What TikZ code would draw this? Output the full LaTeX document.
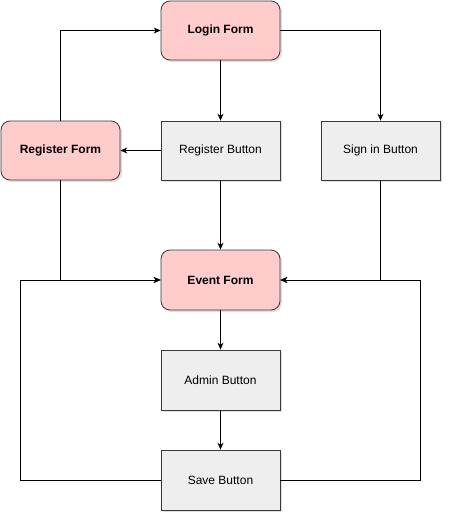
\documentclass[tikz,border=0pt]{standalone}
\usepackage{fontspec}
\setmainfont{Liberation Sans}
\usetikzlibrary{arrows.meta,shadows}
\definecolor{pinkfill}{HTML}{FFCCCC}
\definecolor{grayfill}{HTML}{EEEEEE}
\definecolor{edge}{HTML}{36393D}
\begin{document}
\begin{tikzpicture}[x=1pt,y=-1pt,
  box/.style={draw=edge, line width=0.8pt, minimum width=119pt, minimum height=59pt, inner sep=0pt, font=\fontsize{12}{14}\selectfont,
    drop shadow={shadow xshift=2pt, shadow yshift=-2pt, opacity=0.25, fill=gray}},
  formbox/.style={box, fill=pinkfill, rounded corners=9pt, font=\fontsize{12}{14}\selectfont\bfseries},
  btnbox/.style={box, fill=grayfill},
  conn/.style={draw=black, line width=0.8pt, -{Stealth[length=7pt,width=6pt]}},
  plain/.style={draw=black, line width=0.8pt}]
\useasboundingbox (0,0) rectangle (452,522);
\node[formbox] (login) at (220.5,30.5) {Login Form};
\node[formbox] (regform) at (60.5,150.5) {Register Form};
\node[btnbox] (regbtn) at (220.5,150.5) {Register Button};
\node[btnbox] (signbtn) at (380.5,150.5) {Sign in Button};
\node[formbox, minimum height=60pt] (event) at (220.5,280) {Event Form};
\node[btnbox, minimum height=60pt] (admin) at (220.5,380) {Admin Button};
\node[btnbox, minimum height=60pt] (save) at (220.5,480) {Save Button};
\coordinate (sl) at (20.5,480);
\coordinate (sr) at (420.5,480);
\draw[conn] (login) -- (regbtn);
\draw[conn] (login.east) -| (signbtn.north);
\draw[conn] (regform.north) |- (login.west);
\draw[conn] (regbtn.west) -- (regform.east);
\draw[conn] (regbtn) -- (event);
\draw[conn] (regform.south) |- (event.west);
\draw[conn] (signbtn.south) |- (event.east);
\draw[conn] (event) -- (admin);
\draw[conn] (admin) -- (save);
\draw[conn] (save.west) -- (sl) |- (event.west);
\draw[conn] (save.east) -- (sr) |- (event.east);
\end{tikzpicture}
\end{document}
